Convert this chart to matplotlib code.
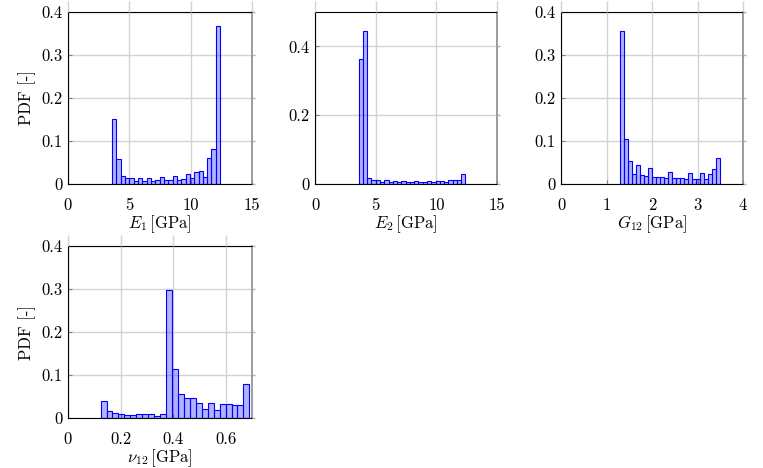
import numpy as np
import matplotlib
matplotlib.use("Agg")
import matplotlib.pyplot as plt

plt.rcParams['font.family'] = ['cmr10', 'DejaVu Serif']
plt.rcParams['mathtext.fontset'] = 'cm'
plt.rcParams['axes.formatter.use_mathtext'] = True

# ---- data (relative frequencies per bin, 25 bins each) ----
e1_range = (3.6, 12.4)
e1_heights = [0.150, 0.058, 0.018, 0.013, 0.013, 0.007, 0.013, 0.008, 0.015, 0.007,
              0.009, 0.016, 0.009, 0.010, 0.019, 0.010, 0.012, 0.023, 0.013, 0.028,
              0.030, 0.017, 0.060, 0.081, 0.367]

e2_range = (3.6, 12.4)
e2_heights = [0.364, 0.445, 0.017, 0.011, 0.011, 0.007, 0.011, 0.006, 0.008, 0.005,
              0.009, 0.006, 0.005, 0.009, 0.006, 0.005, 0.009, 0.006, 0.008, 0.009,
              0.005, 0.011, 0.013, 0.013, 0.029]

g12_range = (1.3, 3.5)
g12_heights = [0.355, 0.105, 0.053, 0.023, 0.044, 0.020, 0.018, 0.037, 0.016, 0.016,
               0.016, 0.015, 0.027, 0.013, 0.013, 0.013, 0.0125, 0.025, 0.012, 0.0125,
               0.025, 0.011, 0.023, 0.034, 0.061]

nu12_range = (0.124, 0.690)
nu12_heights = [0.040, 0.016, 0.0125, 0.0086, 0.008, 0.008, 0.0086, 0.0086, 0.0086, 0.005,
                0.009, 0.298, 0.115, 0.055, 0.047, 0.047, 0.035, 0.020, 0.036, 0.018,
                0.033, 0.032, 0.030, 0.030, 0.080]

xlabels = [r'$E_1\,$[GPa]', r'$E_2\,$[GPa]', r'$G_{12}\,$[GPa]', r'$\nu_{12}\,$[GPa]']
xticks_list = [[0, 5, 10, 15], [0, 5, 10, 15], [0, 1, 2, 3, 4], [0, 0.2, 0.4, 0.6]]
xlims = [(0, 15), (0, 15), (0, 4), (0, 0.7)]
yticks_list = [[0, 0.1, 0.2, 0.3, 0.4], [0, 0.2, 0.4], [0, 0.1, 0.2, 0.3, 0.4],
               [0, 0.1, 0.2, 0.3, 0.4]]
ylims = [(0, 0.4), (0, 0.5), (0, 0.4), (0, 0.4)]

W, H = 763, 468
fig = plt.figure(figsize=(W / 100, H / 100), dpi=100)

# axes boxes in pixels: left, top, right, bottom
boxes = [(68, 12, 252, 184), (315, 12, 497, 184), (561, 12, 743, 184), (68, 246, 252, 418)]
datasets = [(e1_range, e1_heights), (e2_range, e2_heights),
            (g12_range, g12_heights), (nu12_range, nu12_heights)]

FS = 12
GRID = '#d3d3d3'
for i, (box, (rng, hts)) in enumerate(zip(boxes, datasets)):
    l, t, r, b = box
    rect = [l / W, 1 - b / H, (r - l) / W, (b - t) / H]
    ax = fig.add_axes(rect)
    edges = np.linspace(rng[0], rng[1], len(hts) + 1)
    ax.bar(edges[:-1], hts, width=np.diff(edges), align='edge',
           facecolor=(0, 0, 1, 0.3), edgecolor='blue', linewidth=0.8, zorder=3)
    ax.set_xlim(*xlims[i])
    ax.set_ylim(*ylims[i])
    ax.set_xticks(xticks_list[i])
    ax.set_xticklabels(['%g' % v for v in xticks_list[i]], fontsize=FS)
    ax.set_yticks(yticks_list[i])
    ax.set_yticklabels(['%g' % v for v in yticks_list[i]], fontsize=FS)
    ax.grid(True, color=GRID, linewidth=1.0, zorder=0)
    ax.set_axisbelow(True)
    ax.tick_params(direction='in', length=3, color='#808080')
    ax.tick_params(axis='x', pad=10)
    ax.tick_params(axis='y', pad=4)
    for s in ['left', 'bottom', 'top']:
        ax.spines[s].set_color('black')
        ax.spines[s].set_linewidth(0.8)
        ax.spines[s].set_zorder(5)
    ax.spines['right'].set_color('#8c8c8c')
    ax.spines['right'].set_linewidth(1.2)
    ax.set_xlabel(xlabels[i], fontsize=FS, labelpad=0)
    if i in (0, 3):
        ax.set_ylabel('PDF [-]', fontsize=FS, labelpad=4)

    # grid extensions above the top edge and right of the right edge
    tx = ax.twiny()
    tx.set_xlim(*xlims[i])
    tx.set_xticks(xticks_list[i])
    tx.tick_params(axis='x', top=True, bottom=False, labeltop=False, labelbottom=False,
                   direction='out', length=8, color=GRID, width=1.0)
    for s in tx.spines.values():
        s.set_visible(False)
    ty = ax.twinx()
    ty.set_ylim(*ylims[i])
    ty.set_yticks(yticks_list[i])
    ty.tick_params(axis='y', right=True, left=False, labelright=False, labelleft=False,
                   direction='out', length=2, color='#b0b0b0', width=1.0)
    for s in ty.spines.values():
        s.set_visible(False)

fig.savefig('out.png', dpi=100)
